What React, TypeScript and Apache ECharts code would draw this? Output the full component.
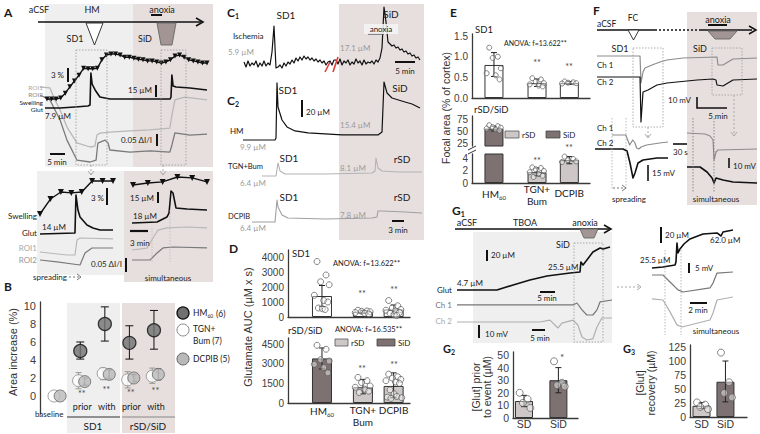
import React, { useEffect, useRef } from "react";
import * as echarts from "echarts";

// ================= DATA =================
// Panel A top (time in min, swelling %, glutamate µM, ROI ΔI/I)
const aTopSwellingPct = [0, 0, 0, 0.2, 1.1, 2.3, 3.4, 4.5, 5.8, 5.7, 5.7, 5.8, 7.4, 8.3, 8.5, 8.5, 8.3, 7.9, 7.9, 7.7, 7.5, 7.4, 7.2, 7.2, 7.0, 6.8, 7.0, 7.4, 8.1, 8.3, 7.9, 7.4, 7.2, 7.0, 6.8, 6.8];
const aTopGlut = [[0, 7.9], [5, 7.9], [10, 9.3], [14.3, 10.6], [15, 12.0], [15.3, 55.6], [15.7, 40.6], [16.7, 32.5], [18.3, 22.9], [21.7, 20.2], [28.3, 20.2], [35, 20.2], [41.7, 20.2], [42, 22.9], [42.3, 52.9], [42.7, 37.9], [43.7, 36.5], [48.3, 35.2], [54, 32.5]];
const aTopROI1 = [[0, 0], [3.3, -0.004], [5, -0.054], [6.7, -0.096], [9, -0.167], [12.3, -0.233], [16.7, -0.25], [18.3, -0.246], [19, -0.2], [20, -0.192], [23.3, -0.188], [30, -0.183], [36.7, -0.179], [43.3, -0.171], [44, -0.117], [45, -0.054], [48.3, -0.042], [55.7, -0.054]];
const aTopROI2 = [[0, 0], [3.3, -0.021], [6.7, -0.104], [9, -0.188], [12.3, -0.271], [16.7, -0.279], [18.7, -0.271], [19.3, -0.2], [21.7, -0.188], [22.7, -0.2], [23.3, -0.229], [30, -0.238], [36.7, -0.233], [43.3, -0.238], [44, -0.208], [45, -0.158], [50, -0.167], [55.7, -0.163]];
// Panel A bottom-left (spreading)
const aSpSwellingPct = [0, 3.4, 5.0, 4.8, 5.0, 7.5, 7.5, 7.5];
const aSpGlut = [[0, 14], [5.83, 15.4], [6, 67.2], [6.33, 46.7], [6.67, 37.2], [7.83, 26.3], [8.83, 22.2], [10, 19.5], [12.17, 19.5]];
const aSpROI1 = [[0, 0], [4.5, -0.0125], [5.83, -0.0125], [6.17, 0.05], [6.67, 0.058], [12.17, 0.054]];
const aSpROI2 = [[0, 0], [2.83, -0.008], [6.67, -0.021], [7.5, 0.029], [8.67, 0.05], [12.17, 0.05]];
// Panel A bottom-right (simultaneous)
const aSiSwellingPct = [0, 0.45, 0.7, 1.8, 1.6, 0.7];
const aSiGlut = [[0, 18], [4.17, 19.4], [5.83, 26.2], [6.17, 31.6], [6.5, 61.6], [6.83, 58.9], [7.33, 38.5], [9.17, 37.1], [12.5, 35.7]];
const aSiROI1 = [[0, 0], [2.5, 0.008], [3.5, 0.05], [4.33, 0.083], [5.83, 0.092], [9.17, 0.096], [12.5, 0.092]];
const aSiROI2 = [[0, 0], [3, 0], [4.17, 0.029], [5.17, 0.05], [6.83, 0.054], [12.5, 0.05]];

// Panel B: area increase (%)
const bCats = ["baseline", "prior", "with", "prior", "with"];
const bHM = [5.0, 8.0, 5.9, 7.3]; // prior/with SD1, prior/with rSD/SiD
const bHMErr = [[4.1, 6.0], [6.1, 9.9], [4.1, 7.8], [5.2, 9.5]];
const bTGN = [0, 1.7, 2.5, 1.8, 2.2];
const bTGNErr = [[0, 0], [0.8, 2.6], [1.8, 3.1], [0.9, 2.7], [1.4, 3.1]];
const bDCPIB = [0, 1.6, 2.4, 2.0, 2.4];
const bDCPIBErr = [[0, 0], [1.2, 2.0], [1.9, 2.9], [1.6, 2.4], [1.8, 3.0]];

// Panel C: glutamate traces (time min, µM)
const c1Glut = [8.4, 2.2, 9.7, 3.4, 7.2, 4.7, 9.7, 2.2, 7.2, 3.4, 9.7, 3.4, 7.2, 4.7,
  20.9, 53.4, 0.9,
  2.2, 4.7, 0.9, 7.2, 3.4, 8.4, 5.9, 10.9, 7.2, 13.4, 9.7, 14.7, 10.9, 15.9, 12.2, 14.7, 10.9, 13.4, 9.7, 12.2, 8.4, 10.9, 7.2, 9.7, 4.7, 8.4,
  9.7, 4.7, 10.9,
  10.9, 5.9, 12.2, 4.7, 9.7, 7.2, 10.9, 4.7, 8.4, 5.9, 12.2, 7.2, 9.7, 4.7, 10.9, 5.9, 8.4, 7.2, 9.7, 5.9, 10.9, 8.4, 13.4,
  25.9, 77.2, 58.4, 33.4,
  30.9, 28.4, 29.7, 25.9, 27.2, 23.4, 24.7, 20.9, 22.2, 18.4, 19.7, 15.9, 17.2, 13.4, 14.7, 10.9];
const c2HM = [[0, 9.9], [8, 9.9], [8.25, 12.4], [8.5, 81.2], [8.75, 51.2], [9.75, 34.9], [11, 26.2], [13, 21.2], [16.25, 18.7], [24.75, 16.2], [33.75, 16.2], [34.75, 19.9], [35.25, 82.4], [36, 68.7], [37.25, 62.4], [40.5, 57.4], [42.25, 54.9], [44.25, 49.9]];
const c2TGN = [[4.75, 6.4], [8.25, 6.4], [8.75, 22.7], [9.25, 12.7], [10.5, 8.9], [20.5, 8.9], [32.25, 10.2], [33, 12.7], [33.25, 28.9], [33.75, 16.4], [34.75, 12.7], [38.75, 11.4], [44.75, 11.4]];
const c2DCPIB = [[2.25, 6.4], [8, 6.4], [8.5, 33.9], [8.75, 25.2], [9.75, 15.2], [11.25, 11.4], [20.5, 10.2], [32.25, 11.4], [33.5, 12.7], [33.75, 20.2], [34.75, 20.2], [40.5, 18.9], [44.75, 17.7]];

// Panel D: glutamate AUC (µM x s) — HM60, TGN+Bum, DCPIB
const dGroups = ["HM60", "TGN+Bum", "DCPIB"];
const dSD1Mean = [1400, 350, 500];
const dSD1Err = [[700, 2100], [250, 450], [250, 800]];
const dSD1Pts = [[3700, 2800, 2350, 2150, 1450, 1100, 1000, 600, 550, 500], [450, 400, 380, 350, 300, 250, 200], [1100, 750, 600, 500, 450, 400, 300, 250, 150, 100]];
const dRSDMean = [3400, 1200, 1300];
const dRSDErr = [[2600, 4200], [700, 1800], [400, 2300]];
const dRSDPts = [[4400, 4100, 3300, 3200, 2950, 2700, 2300], [1950, 1700, 1550, 1300, 1200, 1050, 900, 800], [2200, 2000, 1900, 1800, 1700, 1600, 1500, 1000, 700, 500, 450, 400, 350]];

// Panel E: focal area (% of cortex)
const eSD1Mean = [0.8, 0.36, 0.36];
const eSD1Err = [[0.52, 1.1], [0.28, 0.46], [0.33, 0.4]];
const eSD1Pts = [[1.22, 1.0, 0.97, 0.72, 0.6, 0.55, 0.45], [0.48, 0.45, 0.4, 0.36, 0.33, 0.3, 0.28], [0.4, 0.38, 0.37, 0.36, 0.35]];
const eRSDMean = [55, 1.8, 3.8];
const eRSDErr = [[50, 60], [1.2, 2.5], [3.2, 4.4]];
const eRSDPts = [[62, 60, 58, 57, 55, 53, 51], [2.6, 2.5, 2.3, 2.0, 1.8, 1.5, 1.2, 1.0], [4.4, 4.0, 3.8, 3.6, 3.5]];

// Panel F: DC potential (time min / s, mV)
const fCh1 = [[0, 0], [7.17, 0], [7.33, -27], [7.67, -16], [8, -12], [9.17, -9], [10.5, -6], [11.67, -4], [14.33, -2], [20, -1], [20.17, -9], [21, -9], [21.83, -6], [22.67, -3], [26.67, -2]];
const fCh2 = [[0, 0], [7.17, 0], [7.33, -45], [7.67, -15], [8.5, -13], [10, -8], [11.67, -6], [13.33, -5], [16.67, -3], [19.33, -2], [19.83, -3], [20, -8], [21, -9], [21.83, -6], [22.67, -3], [26.67, -2]];
const fSpCh1 = [[0, 0], [38.6, 0], [49.3, -12.5], [57.9, -6.25], [64.3, -10], [68.6, -16.25], [75, -17.5], [81.4, -15], [96.4, -12.5], [132.9, -10], [156.4, -8.75]];
const fSpCh2 = [[0, 0], [60, 0], [68.6, -2.5], [75, -17.5], [81.4, -36.25], [85.7, -30], [92.1, -17.5], [102.9, -13.75], [132.9, -11.25], [156.4, -11.25]];
const fSiCh1 = [[0, 0], [38.6, -1], [49.3, -3], [55.7, -7], [57.9, -27], [62.1, -19], [66.4, -17], [149.8, -16]];
const fSiCh2 = [[0, 0], [27.9, 0], [42.9, -5], [53.6, -11], [57.9, -16], [62.1, -11], [77.1, -13], [98.6, -15], [149.8, -16]];

// Panel G1: TBOA (time min, µM / mV)
const gGlut = [[0, 4.7], [13.3, 4.7], [18.7, 13.8], [24.3, 22.9], [30, 30.2], [37.7, 35.6], [41, 37.5], [41.3, 55.7], [42, 50.2], [43.3, 59.3], [45.3, 73.9], [47.7, 81.1], [48.7, 79.3], [51, 83]];
const gCh1 = [[0, 0], [38.7, 0], [40, 1.5], [41.7, -3.8], [43.3, -7.7], [45.3, -7.7], [46.7, -3.8], [47.7, 2.3], [51.7, 3.8]];
const gCh2 = [[0, 0], [27.7, 0], [31, 1.5], [33.7, -4.6], [35, -0.8], [38.7, 1.5], [40.3, -2.3], [41.7, -11.6], [43.3, -13.9], [45.3, -13.1], [46.7, -3.8], [48.3, 3.1], [51.7, 3.1]];
const gSiGlut = [[0, 25.5], [1.29, 26.8], [2.71, 29.3], [2.82, 33], [2.94, 56.8], [3.06, 44.3], [3.29, 49.3], [3.76, 55.5], [4.47, 61.8], [6, 68], [7.65, 69.3], [8.12, 65.5], [8.35, 70.5], [9.53, 73]];
const gSiCh1 = [[0, 0], [1.29, 0], [2.12, -3.3], [3.06, -7], [3.65, -8], [6.82, -6.1], [7.18, -3.8], [7.65, 0.9], [9.53, 1.4]];
const gSiCh2 = [[0, 0], [1.29, -0.5], [2.12, -6.1], [2.94, -12.2], [3.53, -13.2], [6.82, -9.9], [7.18, -6.6], [7.65, -0.5], [9.53, 0.9]];

// Panels G2 / G3
const gEvents = ["SD", "SiD"];
const g2Mean = [13.5, 30];
const g2Err = [[9, 18], [20, 40]];
const g2Pts = [[20, 15, 12, 8], [45, 28, 26, 25]];
const g3Mean = [20, 63];
const g3Err = [[15, 26], [27, 100]];
const g3Pts = [[26, 22, 18, 14], [115, 62, 43, 35]];

// ================= STYLE / LAYOUT =================
const CAL = "Lato, 'Open Sans', 'DejaVu Sans', sans-serif";
const ARI = "'Liberation Sans', Arial, sans-serif";
const LIGHT_BG = "#efefef";
const PINK_BG = "#e6dfde";
const DARK_BAR = "#7d7271";
const LIGHT_BAR = "#cdc8c7";
const GRAY_TXT = "#9b9b9b";
const AXC = "#3a3a3a";
const JIT = [-0.55, 0.45, -0.15, 0.8, -0.85, 0.2, 0.65, -0.4, 0.05, 0.35, -0.7, 0.9, -0.3];

function buildOption() {
  const grid: any[] = [], xAxis: any[] = [], yAxis: any[] = [], series: any[] = [], g: any[] = [];

  const addGrid = (l: number, t: number, w: number, h: number, xa: any, ya: any) => {
    const i = grid.length;
    grid.push({ left: l, top: t, width: w, height: h, containLabel: false, show: false });
    xAxis.push({ gridIndex: i, ...xa });
    yAxis.push({ gridIndex: i, ...ya });
    return i;
  };
  const hid = () => ({ type: "value", min: "dataMin", max: "dataMax", show: false, scale: true });
  const trace = (box: number[], data: number[][], color: string, lw = 1, extra: any = {}) => {
    const i = addGrid(box[0], box[1], box[2] - box[0], box[3] - box[1], hid(), hid());
    series.push({ type: "line", xAxisIndex: i, yAxisIndex: i, data, symbol: "none", clip: false, silent: true, z: 5, lineStyle: { color, width: lw, join: "round" }, ...extra });
  };
  const uni = (v: number[], step = 1) => v.map((y, k) => [k * step, y]);
  const swell = { symbol: "triangle", symbolRotate: 180, symbolSize: 5, showSymbol: true, itemStyle: { color: "#111" } };

  const barGrid = (l: number, t: number, w: number, h: number, xr: number[], yr: number[], ticks: number[] | null, fs: number, fmt: any, showX = true) =>
    addGrid(l, t, w, h,
      { type: "value", min: xr[0], max: xr[1], axisLine: { show: showX, onZero: false, lineStyle: { color: AXC, width: 1.3 } }, axisTick: { show: false }, axisLabel: { show: false }, splitLine: { show: false } },
      {
        type: "value", min: yr[0], max: yr[1], axisLine: { show: true, onZero: false, lineStyle: { color: AXC, width: 1.3 } }, axisTick: { show: false }, splitLine: { show: false },
        axisLabel: ticks ? { show: true, customValues: ticks, formatter: fmt, fontFamily: ARI, fontSize: fs, color: "#404040", margin: 4 } : { show: false },
      });
  const bars = (gi: number, xs: number[], vals: number[], fills: string[], bw: number) =>
    series.push({
      type: "bar", xAxisIndex: gi, yAxisIndex: gi, barWidth: bw, clip: true, silent: true, z: 2,
      data: vals.map((v, k) => ({ value: [xs[k], v], itemStyle: { color: fills[k], borderColor: "#333", borderWidth: 1 } })),
    });
  const errs = (gi: number, xs: number[], ranges: number[][], color = "#222", cap = 3, z = 3) =>
    series.push({
      type: "custom", xAxisIndex: gi, yAxisIndex: gi, clip: false, silent: true, z,
      encode: { x: 0, y: [1, 2] },
      data: ranges.map((r, k) => [xs[k], r[0], r[1]]).filter((d) => d[2] > d[1]),
      renderItem: (_p: any, api: any) => {
        const x = api.value(0), lo = api.value(1), hi = api.value(2);
        const a = api.coord([x, lo]), b = api.coord([x, hi]);
        const st = { stroke: color, lineWidth: 1 };
        return {
          type: "group", children: [
            { type: "line", shape: { x1: a[0], y1: a[1], x2: b[0], y2: b[1] }, style: st },
            { type: "line", shape: { x1: b[0] - cap, y1: b[1], x2: b[0] + cap, y2: b[1] }, style: st },
            { type: "line", shape: { x1: a[0] - cap, y1: a[1], x2: a[0] + cap, y2: a[1] }, style: st },
          ],
        };
      },
    });
  const dots = (gi: number, xs: number[], groups: number[][], amp: number, size: number, keep?: (v: number) => boolean) => {
    const data: number[][] = [];
    groups.forEach((arr, k) => arr.forEach((v, j) => { if (!keep || keep(v)) data.push([xs[k] + JIT[j % JIT.length] * amp, v]); }));
    series.push({ type: "scatter", xAxisIndex: gi, yAxisIndex: gi, data, symbolSize: size, silent: true, z: 6, clip: false, itemStyle: { color: "rgba(255,255,255,0.55)", borderColor: "#555", borderWidth: 0.9 } });
  };

  // ---- graphic helpers ----
  const T = (x: number, y: number, text: string, s = 9, o: any = {}) => g.push({
    type: "text", x, y, z: 50, silent: true, rotation: o.r || 0,
    style: {
      text, fill: o.c || "#1a1a1a", fontSize: s, fontFamily: o.f || CAL, fontWeight: o.w || "normal",
      align: o.a || "center", verticalAlign: "middle", textAlign: o.a || "center", textVerticalAlign: "middle", rich: o.rich,
    },
  });
  const SUB = (x: number, y: number, main: string, sub: string, s: number, o: any = {}) =>
    T(x, y, `${main}{s|${sub}}`, s, { ...o, rich: { s: { fontSize: Math.round(s * 0.62), fontFamily: o.f || CAL, fontWeight: o.w || "normal", fill: o.c || "#1a1a1a", padding: [Math.round(s * 0.6), 0, 0, 0] } } });
  const L = (x1: number, y1: number, x2: number, y2: number, w = 1, c = "#111", dash?: number[]) =>
    g.push({ type: "line", z: 40, silent: true, shape: { x1, y1, x2, y2 }, style: { stroke: c, lineWidth: w, lineDash: dash } });
  const R = (x: number, y: number, w: number, h: number, fill: string, stroke?: string, z = 0, dash?: number[], lw = 0.8) =>
    g.push({ type: "rect", z, silent: true, shape: { x, y, width: w, height: h }, style: { fill, stroke, lineWidth: lw, lineDash: dash } });
  const P = (pts: number[][], fill: string, stroke = "#222", z = 40) =>
    g.push({ type: "polygon", z, silent: true, shape: { points: pts }, style: { fill, stroke, lineWidth: 0.9 } });
  const PL = (pts: number[][], stroke = "#111", w = 1.5) =>
    g.push({ type: "polyline", z: 40, silent: true, shape: { points: pts }, style: { stroke, lineWidth: w, fill: "none" } });
  const CIR = (cx: number, cy: number, r: number, fill: string, stroke: string, lw = 1) =>
    g.push({ type: "circle", z: 40, silent: true, shape: { cx, cy, r }, style: { fill, stroke, lineWidth: lw } });
  const dashDown = (x: number, y1: number, y2: number) => { L(x, y1, x, y2, 1, "#aaa", [2, 2]); PL([[x - 3, y2 - 4], [x, y2], [x + 3, y2 - 4]], "#aaa", 1); };
  const dashRight = (x1: number, x2: number, y: number, c = "#aaa") => { L(x1, y, x2, y, 1, c, [2, 2]); PL([[x2 - 4, y - 3], [x2, y], [x2 - 4, y + 3]], c, 1); };
  const dotBox = (x: number, y: number, w: number, h: number) => R(x, y, w, h, "none", "#9a9a9a", 30, [1.5, 1.5], 0.8);
  const vDot = (x: number, y1: number, y2: number, c = "#aaa") => L(x, y1, x, y2, 0.8, c, [1.5, 1.5]);

  // ================= PANEL A =================
  R(45, 4, 88, 163, LIGHT_BG);
  R(133, 4, 80, 163, PINK_BG);
  R(37, 171, 87, 104, LIGHT_BG);
  R(124, 171, 89, 111, PINK_BG);
  T(4, 12, "A", 12, { w: "bold", a: "left" });
  T(39, 9, "aCSF", 9); T(92, 9, "HM", 9); T(162, 9, "anoxia", 9);
  L(151, 15, 162, 15, 2);
  L(38, 22, 201, 22, 1.6); PL([[196, 18], [203, 22], [196, 26]], "#111", 1.6);
  P([[86, 23], [103, 23], [94.5, 45]], "#fff");
  P([[157, 23], [176, 23], [172, 45], [161, 45]], "#a29593", "#666");
  T(75, 38, "SD1", 9); T(145, 38, "SiD", 9);
  dotBox(76, 50, 31, 115); dotBox(161, 50, 25, 115);
  dashDown(91, 165, 175); dashDown(163, 165, 175);
  T(64, 75, "3 %", 8, { a: "right" }); L(68, 68, 68, 82, 2);
  T(152, 90, "15 µM", 8, { a: "right" }); L(156, 85, 156, 97, 2);
  T(152, 140, "0.05 ΔI/I", 8, { a: "right" }); L(157, 134, 157, 146, 2);
  T(57, 162, "5 min", 8); L(50, 154, 65, 154, 2);
  T(45, 116, "7.9 µM", 8, { a: "left" });
  T(43, 87, "ROI1", 6.5, { a: "right", c: "#aaa" });
  T(43, 94.5, "ROI2", 6.5, { a: "right", c: "#888" });
  T(43, 102, "Swelling", 6.5, { a: "right" });
  T(43, 109.5, "Glut", 6.5, { a: "right" });
  trace([40, 87, 207, 147], aTopROI1, "#b8b8b8", 1.3);
  trace([40, 95, 207, 162], aTopROI2, "#7a7a7a", 1.3);
  trace([45, 73, 207, 108], aTopGlut, "#111", 1.6);
  trace([47, 54, 207, 99], uni(aTopSwellingPct, 1.5), "#111", 1.4, swell);
  // bottom-left
  T(37, 216, "Swelling", 8, { a: "right" }); T(37, 233, "Glut", 8, { a: "right" });
  T(37, 248, "ROI1", 8, { a: "right", c: "#aaa" }); T(37, 260, "ROI2", 8, { a: "right", c: "#999" });
  T(42, 227, "14 µM", 8, { a: "left" });
  T(104, 198, "3 %", 8, { a: "right" }); L(107, 188, 107, 205, 2);
  T(122, 264, "0.05 ΔI/I", 8, { a: "right" }); L(126, 258, 126, 272, 2);
  T(33, 277, "spreading", 8, { a: "left" }); dashRight(69, 81, 277, "#777");
  trace([40, 238, 113, 255], aSpROI1, "#b8b8b8", 1.2);
  trace([40, 248, 113, 265], aSpROI2, "#7a7a7a", 1.2);
  trace([40, 195, 113, 234], aSpGlut, "#111", 1.6);
  trace([40, 181, 113, 214], uni(aSpSwellingPct), "#111", 1.4, { ...swell, symbolSize: 6 });
  // bottom-right
  T(130, 198, "15 µM", 8, { a: "left" }); L(158, 192, 158, 203, 2);
  T(133, 216, "18 µM", 8, { a: "left" });
  T(130, 243, "3 min", 8, { a: "left" }); L(130, 231, 148, 231, 2.2);
  T(168, 278, "simultaneous", 8);
  vDot(152, 228, 262, "#bbb"); vDot(170, 210, 262, "#bbb");
  trace([132, 227, 207, 250], aSiROI1, "#b8b8b8", 1.2);
  trace([132, 247, 207, 260], aSiROI2, "#7a7a7a", 1.2);
  trace([132, 191, 207, 223], aSiGlut, "#111", 1.6);
  trace([133, 177, 207, 185], uni(aSiSwellingPct), "#111", 1.4, { ...swell, symbolSize: 6 });

  // ================= PANEL B =================
  R(67, 303, 53, 130, LIGHT_BG);
  R(122, 303, 53, 130, PINK_BG);
  T(4, 286, "B", 12, { w: "bold", a: "left" });
  T(13, 352, "Area increase (%)", 11, { f: ARI, r: Math.PI / 2, c: "#333" });
  const bUnit = 140 / 5.7;
  const bx = (k: number) => 40 + (k + 0.7) * bUnit;
  const bi = barGrid(40, 302, 140, 112, [-0.7, 5], [-2, 10.44], [0, 2, 4, 6, 8, 10], 11, (v: number) => String(v), false);
  const bSlotsHM = [1, 2, 3, 4];
  errs(bi, bSlotsHM.map((s) => s - 0.06), bHMErr, "#111", 4, 4);
  errs(bi, bTGN.map((_, k) => k - 0.13), bTGNErr, "#999", 3, 4);
  errs(bi, bDCPIB.map((_, k) => k + 0.12), bDCPIBErr, "#555", 3, 4);
  series.push({ type: "scatter", xAxisIndex: bi, yAxisIndex: bi, data: bTGN.map((v, k) => [k - 0.13, v]), symbolSize: 12, z: 6, silent: true, itemStyle: { color: "#fff", borderColor: "#8a8a8a", borderWidth: 1 } });
  series.push({ type: "scatter", xAxisIndex: bi, yAxisIndex: bi, data: bDCPIB.map((v, k) => [k + 0.12, v]), symbolSize: 12, z: 7, silent: true, itemStyle: { color: "#b9b9b9", borderColor: "#666", borderWidth: 1 } });
  series.push({ type: "scatter", xAxisIndex: bi, yAxisIndex: bi, data: bHM.map((v, k) => [bSlotsHM[k] - 0.06, v]), symbolSize: 13, z: 8, silent: true, itemStyle: { color: "#707070", borderColor: "#111", borderWidth: 1.3 } });
  const starY = [0, 393.5, 389, 392.5, 390.5];
  bCats.forEach((c, k) => {
    if (k === 0) T(bx(k) - 8, 414, c, 8);
    else { T(bx(k) + 0.5, 406.5, c, 9); T(bx(k), starY[k], "**", 9, { c: "#444" }); }
  });
  L(67, 417, 120, 417, 1.2, "#333"); L(122, 417, 175, 417, 1.2, "#888");
  T(93, 426, "SD1", 10); T(148, 426, "rSD/SiD", 10);
  CIR(183, 313, 6, "#707070", "#111", 1.3); SUB(193, 313, "HM", "60", 8.5, { a: "left" }); T(216, 314, "(6)", 8.5, { a: "left" });
  CIR(183, 330, 6, "#fff", "#8a8a8a"); T(193, 329, "TGN+", 8.5, { a: "left" }); T(193, 341, "Bum (7)", 8.5, { a: "left" });
  CIR(183, 359, 6, "#b9b9b9", "#666"); T(193, 359, "DCPIB (5)", 8.5, { a: "left" });

  // ================= PANEL C =================
  R(339, 4, 85, 236, PINK_BG);
  SUB(227, 12, "C", "1", 12, { w: "bold", a: "left" });
  T(286, 15, "SD1", 10); T(391, 14, "SiD", 10);
  T(233, 36, "Ischemia", 8, { a: "left" });
  T(228, 52, "5.9 µM", 8, { a: "left", c: GRAY_TXT });
  T(340, 48, "17.1 µM", 8, { a: "left", c: GRAY_TXT });
  trace([244, 7, 420, 68], uni(c1Glut, 0.5), "#111", 1.2);
  R(364, 24, 34, 10, "rgba(245,245,245,0.85)", undefined, 45);
  T(381, 29, "anoxia", 8);
  L(368, 34, 384, 34, 1.5, "#666");
  L(325, 72, 330, 62, 1.6, "#e53935"); L(333, 72, 338, 57, 1.6, "#e53935");
  T(405, 71, "5 min", 8); L(395, 62, 415, 62, 2);
  SUB(227, 100, "C", "2", 12, { w: "bold", a: "left" });
  T(288, 90, "SD1", 10); T(400, 88, "SiD", 10);
  T(306, 112, "20 µM", 8, { a: "left" }); L(302, 100, 302, 117, 2);
  T(230, 131, "HM", 8, { a: "left" });
  T(240, 147, "9.9 µM", 8, { a: "left", c: GRAY_TXT });
  T(340, 125, "15.4 µM", 8, { a: "left", c: GRAY_TXT });
  trace([243, 82, 420, 140], c2HM, "#111", 1.2);
  T(228, 166, "TGN+Bum", 7.5, { a: "left" });
  T(289, 158, "SD1", 10); T(402, 159, "rSD", 10);
  T(240, 183, "6.4 µM", 8, { a: "left", c: GRAY_TXT });
  T(340, 168, "8.1 µM", 8, { a: "left", c: GRAY_TXT });
  trace([262, 158, 422, 176], c2TGN, "#b3b3b3", 1.1);
  T(228, 216, "DCPIB", 7.5, { a: "left" });
  T(289, 197, "SD1", 10); T(402, 197, "rSD", 10);
  T(240, 228, "6.4 µM", 8, { a: "left", c: GRAY_TXT });
  T(340, 215, "7.8 µM", 8, { a: "left", c: GRAY_TXT });
  trace([252, 200, 422, 222], c2DCPIB, "#a0a0a0", 1.1);
  T(398, 230, "3 min", 8); L(392, 221, 404, 221, 2);

  // ================= PANEL D =================
  const dSlots = [0, 1, 1.75];
  T(229, 248, "D", 12, { w: "bold", a: "left" });
  T(248, 327, "Glutamate AUC (µM x s)", 11, { f: ARI, r: Math.PI / 2, c: "#333" });
  T(292, 253, "SD1", 9.5, { a: "left" });
  T(333, 263, "ANOVA: f=13.622**", 7.5, { a: "left" });
  const dTop = barGrid(288, 250, 122, 67, [-0.83, 2.15], [0, 4467], [0, 1000, 2000, 3000, 4000], 10, (v: number) => String(v));
  bars(dTop, dSlots, dSD1Mean, ["#fff", "#fff", "#fff"], 20);
  errs(dTop, dSlots, dSD1Err);
  dots(dTop, dSlots, dSD1Pts, 0.22, 6);
  T(362, 293, "**", 9, { c: "#444" }); T(394, 289, "**", 9, { c: "#444" });
  T(288, 330, "rSD/SiD", 9.5, { a: "left" });
  T(335, 329, "ANOVA: f=16.535**", 7.5, { a: "left" });
  R(335, 339, 13, 7, LIGHT_BAR, "#555", 40); T(351, 342.5, "rSD", 8, { a: "left" });
  R(377, 339, 18, 7, DARK_BAR, "#444", 40); T(398, 342.5, "SiD", 8, { a: "left" });
  const dBot = barGrid(288, 338, 122, 65, [-0.83, 2.15], [0, 4958], [0, 1500, 3000, 4500], 10, (v: number) => String(v));
  bars(dBot, dSlots, dRSDMean, [DARK_BAR, LIGHT_BAR, LIGHT_BAR], 20);
  errs(dBot, dSlots, dRSDErr);
  dots(dBot, dSlots, dRSDPts, 0.22, 6);
  T(362, 368, "**", 9, { c: "#444" }); T(394, 364, "**", 9, { c: "#444" });
  const dPx = (k: number) => 322 + dSlots[k] * 40.9;
  SUB(dPx(0), 411, "HM", "60", 10); T(dPx(1), 410, "TGN+", 10); T(dPx(1), 422, "Bum", 10); T(dPx(2), 410, dGroups[2], 10);

  // ================= PANEL E =================
  const eSlots = [0, 1, 1.75];
  T(450, 12, "E", 12, { w: "bold", a: "left" });
  T(446, 108, "Focal area (% of cortex)", 10.5, { f: ARI, r: Math.PI / 2, c: "#333" });
  T(475, 29, "SD1", 9.5, { a: "left" });
  T(504, 43, "ANOVA: f=13.622**", 7, { a: "left" });
  const eTop = barGrid(472, 34, 118, 64, [-0.51, 2.23], [0, 1.55], [0, 0.5, 1, 1.5], 10, (v: number) => v.toFixed(1));
  bars(eTop, eSlots, eSD1Mean, ["#fff", "#fff", "#fff"], 19);
  errs(eTop, eSlots, eSD1Err);
  dots(eTop, eSlots, eSD1Pts, 0.2, 5);
  T(537, 62, "**", 9, { c: "#444" }); T(569, 66, "**", 9, { c: "#444" });
  T(474, 109, "rSD/SiD", 9.5, { a: "left" });
  R(505, 131, 14, 7, LIGHT_BAR, "#555", 40); T(522, 134.5, "rSD", 8, { a: "left" });
  R(546, 131, 14, 7, DARK_BAR, "#444", 40); T(563, 134.5, "SiD", 8, { a: "left" });
  const eUp = barGrid(472, 116, 118, 30, [-0.51, 2.23], [18.75, 81.25], [25, 50, 75], 10, (v: number) => String(v), false);
  const eLow = barGrid(472, 154, 118, 29, [-0.51, 2.23], [0, 4.83], [0, 2, 4], 10, (v: number) => String(v));
  bars(eUp, [eSlots[0]], [eRSDMean[0]], [DARK_BAR], 19);
  errs(eUp, [eSlots[0]], [eRSDErr[0]]);
  dots(eUp, eSlots, eRSDPts, 0.2, 5, (v) => v > 10);
  bars(eLow, eSlots, eRSDMean, [DARK_BAR, LIGHT_BAR, LIGHT_BAR], 19);
  errs(eLow, eSlots.slice(1), eRSDErr.slice(1));
  dots(eLow, eSlots, eRSDPts, 0.2, 5, (v) => v <= 10);
  L(468, 150, 476, 146, 1, "#333"); L(468, 154, 476, 150, 1, "#333");
  T(537, 160, "**", 9, { c: "#444" }); T(569, 147, "**", 9, { c: "#444" });
  const ePx = (k: number) => 494 + eSlots[k] * 43;
  SUB(ePx(0), 194, "HM", "60", 10); T(ePx(1), 189, "TGN+", 10); T(ePx(1), 201, "Bum", 10); T(ePx(2), 193, dGroups[2], 10);

  // ================= PANEL F =================
  R(687, 12, 70, 193, PINK_BG);
  T(593, 10, "F", 12, { w: "bold", a: "left" });
  T(597, 24, "aCSF", 8.5, { a: "left" }); T(633, 18, "FC", 8.5);
  T(718, 19, "anoxia", 9); L(708, 25, 727, 25, 2);
  L(597, 30, 655, 30, 1.5); L(655, 30, 700, 30, 1.5, "#111", [2, 2]); L(700, 30, 752, 30, 1.5);
  PL([[749, 26], [756, 30], [749, 34]], "#111", 1.5);
  P([[628, 30], [639, 30], [633.5, 40]], "#fff");
  P([[708, 31], [737, 31], [730, 39], [715, 39]], "#a29593", "#666");
  T(620, 48, "SD1", 9); T(700, 48, "SiD", 9);
  T(597, 65, "Ch 1", 8, { a: "left" }); T(597, 82, "Ch 2", 8, { a: "left" });
  dotBox(633, 48, 30, 79); dotBox(712, 48, 30, 47);
  trace([597, 56, 757, 83], fCh1, "#8c8c8c", 1.2);
  trace([597, 77, 757, 122], fCh2, "#111", 1.2);
  T(668, 100, "10 mV", 8, { a: "left" });
  PL([[697, 97], [697, 108], [727, 108]], "#111", 1.6);
  T(718, 116, "5 min", 8);
  dashDown(648, 127, 138); dashDown(734, 95, 136);
  T(597, 128, "Ch 1", 8, { a: "left" }); T(597, 143, "Ch 2", 8, { a: "left" });
  vDot(612, 118, 190); vDot(626, 118, 190);
  trace([612, 135, 668, 149], fSpCh1, "#8c8c8c", 1.2);
  trace([595, 149, 668, 178], fSpCh2, "#111", 1.6);
  T(652, 173, "15 mV", 8, { a: "left" }); L(648, 165, 648, 181, 1.6);
  dashRight(613, 626, 188, "#777");
  T(629, 199, "spreading", 8);
  T(673, 152, "30 s", 8, { a: "left" }); L(673, 144, 687, 144, 1.6);
  vDot(693, 118, 192, "#777"); vDot(714, 118, 192, "#777");
  trace([687, 133, 757, 160], fSiCh1, "#8c8c8c", 1.2);
  trace([687, 167, 757, 183], fSiCh2, "#111", 1.6);
  T(733, 166, "10 mV", 8, { a: "left" }); L(729, 158, 729, 168, 1.6);
  T(716, 199, "simultaneous", 8);

  // ================= PANEL G1 =================
  R(473, 232, 139, 111, LIGHT_BG);
  SUB(452, 210, "G", "1", 12, { w: "bold", a: "left" });
  T(467, 222, "aCSF", 9); T(525, 222, "TBOA", 9); T(585, 222, "anoxia", 9);
  L(455, 229, 609, 229, 1.6); PL([[604, 225], [611, 229], [604, 233]], "#111", 1.6);
  P([[580, 229], [598, 229], [594, 238], [584, 238]], "#a29593", "#666");
  T(563, 244, "SiD", 9);
  dotBox(574, 243, 29, 99);
  T(491, 255, "20 µM", 8, { a: "left" }); L(487, 250, 487, 261, 2);
  T(548, 267, "25.5 µM", 8, { a: "left" }); T(457, 283, "4.7 µM", 8, { a: "left" });
  T(452, 290, "Glut", 8, { a: "right" }); T(452, 305, "Ch 1", 8, { a: "right", c: "#777" }); T(452, 321, "Ch 2", 8, { a: "right", c: "#aaa" });
  trace([457, 247, 610, 290], gGlut, "#111", 1.6);
  trace([457, 300, 612, 315], gCh1, "#777", 1.2);
  trace([457, 318, 612, 340], gCh2, "#b0b0b0", 1.2);
  T(547, 298, "5 min", 8); L(540, 292, 555, 292, 2);
  T(485, 334, "10 mV", 8, { a: "left" }); L(479, 325, 479, 338, 2);
  T(540, 338, "5 min", 8); L(532, 330, 545, 330, 2);
  dashRight(617, 641, 287);
  T(665, 235, "20 µM", 8, { a: "left" }); L(661, 227, 661, 243, 2);
  T(710, 240, "62.0 µM", 8, { a: "left" }); T(640, 260, "25.5 µM", 8, { a: "left" });
  T(695, 268, "5 mV", 8, { a: "left" }); L(689, 263, 689, 273, 2);
  vDot(665, 250, 335); vDot(681, 250, 335);
  trace([652, 230, 733, 268], gSiGlut, "#111", 1.6);
  trace([652, 272, 733, 292], gSiCh1, "#777", 1.2);
  trace([652, 297, 733, 327], gSiCh2, "#b0b0b0", 1.2);
  T(698, 310, "2 min", 8); L(690, 303, 707, 303, 2);
  T(716, 331, "simultaneous", 8);

  // ================= PANELS G2 / G3 =================
  const gSlots = [0, 1];
  SUB(443, 348, "G", "2", 11, { w: "bold", a: "left" });
  T(476, 387, "[Glut] prior", 10.5, { f: ARI, r: Math.PI / 2, c: "#333" });
  T(487, 387, "to event (µM)", 10.5, { f: ARI, r: Math.PI / 2, c: "#333" });
  const g2 = barGrid(513, 352, 65, 66, [-0.32, 1.57], [0, 52.4], [0, 10, 20, 30, 40, 50], 10.5, (v: number) => String(v));
  bars(g2, gSlots, g2Mean, [LIGHT_BAR, DARK_BAR], 18);
  errs(g2, gSlots, g2Err);
  dots(g2, gSlots, g2Pts, 0.23, 7);
  T(562, 357, "*", 10, { c: "#444" });
  gEvents.forEach((e, k) => T(524 + gSlots[k] * 34.4, 424, e, 10.5, { f: ARI, c: "#333" }));
  SUB(623, 348, "G", "3", 11, { w: "bold", a: "left" });
  T(640, 383, "[Glut]", 10.5, { f: ARI, r: Math.PI / 2, c: "#333" });
  T(651, 383, "recovery (µM)", 10.5, { f: ARI, r: Math.PI / 2, c: "#333" });
  const g3 = barGrid(690, 345, 57, 72, [-0.48, 1.9], [0, 128.6], [0, 25, 50, 75, 100, 125], 10.5, (v: number) => String(v));
  bars(g3, gSlots, g3Mean, [LIGHT_BAR, DARK_BAR], 18);
  errs(g3, gSlots, g3Err);
  dots(g3, gSlots, g3Pts, 0.34, 7);
  gEvents.forEach((e, k) => T(701.5 + gSlots[k] * 24, 424, e, 10.5, { f: ARI, c: "#333" }));

  return {
    animation: false,
    backgroundColor: "#fff",
    textStyle: { fontFamily: CAL },
    grid, xAxis, yAxis, series,
    graphic: { elements: g },
  };
}

export default function App() {
  const ref = useRef<HTMLDivElement>(null);
  useEffect(() => {
    if (!ref.current) return;
    const chart = echarts.init(ref.current, null, { renderer: "svg" });
    chart.setOption(buildOption() as any);
    return () => chart.dispose();
  }, []);
  return <div ref={ref} style={{ position: "absolute", left: 0, top: 0, width: 760, height: 434, background: "#fff" }} />;
}
